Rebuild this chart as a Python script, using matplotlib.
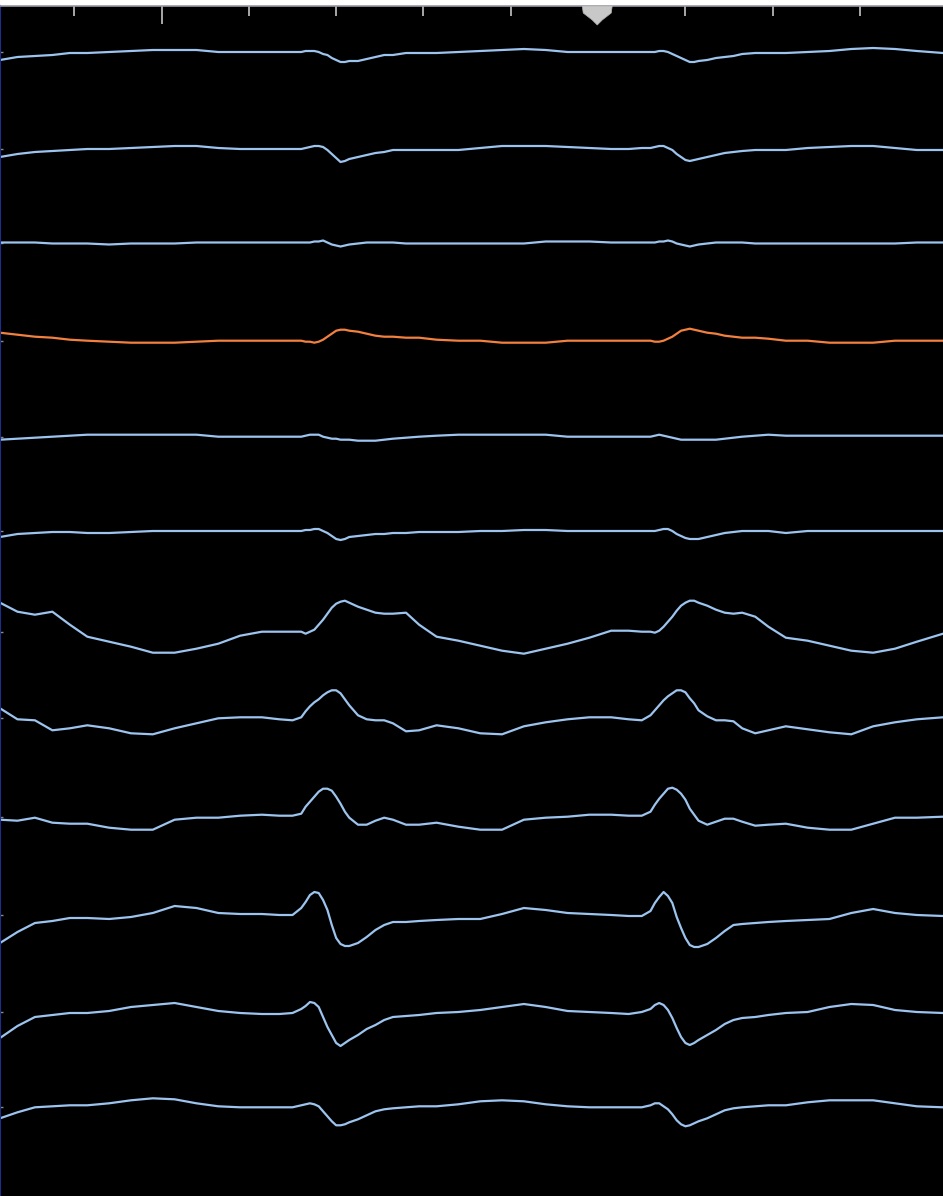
import matplotlib
matplotlib.use("Agg")
import matplotlib.pyplot as plt
from matplotlib.patches import Polygon
import numpy as np

# sample times (ms), denser around the two QRS complexes
time_ms = [0, 40, 80, 120, 160, 200, 250, 300, 350, 400, 450, 500, 550, 600, 640, 670,
           690, 700, 710, 720, 730, 740, 750, 760, 770, 780, 790, 800,
           820, 840, 860, 880, 900, 930, 960, 1000, 1050, 1100, 1150, 1200, 1250, 1300, 1350, 1400, 1440, 1470,
           1490, 1500, 1510, 1520, 1530, 1540, 1550, 1560, 1570, 1580, 1590, 1600,
           1620, 1640, 1660, 1680, 1700, 1730, 1760, 1800, 1850, 1900, 1950, 2000, 2050, 2100, 2160]

# lead amplitudes in mV
lead_1 = [-0.08, -0.05, -0.04, -0.03, -0.01, -0.01, 0.00, 0.01, 0.02, 0.02, 0.02, 0.00, 0.00, 0.00, 0.00, 0.00,
          0.00, 0.01, 0.01, 0.01, 0.00, -0.02, -0.03, -0.06, -0.08, -0.10, -0.10, -0.09,
          -0.09, -0.07, -0.05, -0.03, -0.03, -0.01, -0.01, -0.01, 0.00, 0.01, 0.02, 0.03, 0.02, 0.00, 0.00, 0.00, 0.00, 0.00,
          0.00, 0.00, 0.01, 0.01, 0.00, -0.02, -0.04, -0.06, -0.08, -0.10, -0.10, -0.09,
          -0.08, -0.06, -0.05, -0.04, -0.02, -0.01, -0.01, -0.01, 0.00, 0.01, 0.03, 0.04, 0.03, 0.01, -0.01]
lead_2 = [-0.08, -0.05, -0.03, -0.02, -0.01, 0.00, 0.00, 0.01, 0.02, 0.03, 0.03, 0.01, 0.00, 0.00, 0.00, 0.00,
          0.00, 0.01, 0.02, 0.03, 0.03, 0.02, -0.01, -0.05, -0.09, -0.13, -0.12, -0.10,
          -0.08, -0.06, -0.04, -0.03, -0.01, -0.01, -0.01, -0.01, -0.01, 0.01, 0.03, 0.03, 0.03, 0.02, 0.01, 0.00, 0.00, 0.01,
          0.01, 0.02, 0.03, 0.03, 0.01, -0.01, -0.05, -0.08, -0.11, -0.12, -0.11, -0.10,
          -0.08, -0.06, -0.04, -0.03, -0.02, -0.01, -0.01, -0.01, 0.01, 0.02, 0.03, 0.03, 0.01, -0.01, -0.01]
lead_3 = [0.01, 0.01, 0.01, 0.00, 0.00, 0.00, -0.01, 0.00, 0.00, 0.00, 0.01, 0.01, 0.01, 0.01, 0.01, 0.01,
          0.01, 0.01, 0.01, 0.02, 0.02, 0.03, 0.01, -0.01, -0.02, -0.03, -0.02, -0.01,
          0.00, 0.01, 0.01, 0.01, 0.01, 0.00, 0.00, 0.00, 0.00, 0.00, 0.00, 0.00, 0.02, 0.02, 0.02, 0.01, 0.01, 0.01,
          0.01, 0.01, 0.02, 0.02, 0.03, 0.02, 0.00, -0.01, -0.02, -0.03, -0.02, -0.01,
          0.00, 0.01, 0.01, 0.01, 0.01, 0.00, 0.00, 0.00, 0.00, 0.00, 0.00, 0.00, 0.00, 0.01, 0.01]
lead_4 = [0.08, 0.06, 0.04, 0.03, 0.01, 0.00, -0.01, -0.02, -0.02, -0.02, -0.01, 0.00, 0.00, 0.00, 0.00, 0.00,
          0.00, -0.01, -0.01, -0.02, -0.01, 0.01, 0.04, 0.07, 0.10, 0.11, 0.11, 0.10,
          0.09, 0.07, 0.05, 0.04, 0.04, 0.03, 0.03, 0.01, 0.00, 0.00, -0.02, -0.02, -0.02, 0.00, 0.00, 0.00, 0.00, 0.00,
          0.00, -0.01, -0.01, 0.00, 0.02, 0.04, 0.07, 0.10, 0.11, 0.12, 0.11, 0.10,
          0.08, 0.07, 0.05, 0.04, 0.03, 0.03, 0.02, 0.00, 0.00, -0.02, -0.02, -0.02, 0.00, 0.00, 0.00]
lead_5 = [-0.03, -0.02, -0.01, 0.00, 0.01, 0.02, 0.02, 0.02, 0.02, 0.02, 0.02, 0.00, 0.00, 0.00, 0.00, 0.00,
          0.00, 0.01, 0.02, 0.02, 0.02, 0.00, -0.01, -0.02, -0.02, -0.03, -0.03, -0.03,
          -0.04, -0.04, -0.04, -0.03, -0.02, -0.01, 0.00, 0.01, 0.02, 0.02, 0.02, 0.02, 0.02, 0.00, 0.00, 0.00, 0.00, 0.00,
          0.00, 0.01, 0.02, 0.01, 0.00, -0.01, -0.02, -0.03, -0.03, -0.03, -0.03, -0.03,
          -0.03, -0.03, -0.02, -0.01, 0.00, 0.01, 0.02, 0.01, 0.01, 0.01, 0.01, 0.01, 0.01, 0.01, 0.01]
lead_6 = [-0.06, -0.03, -0.02, -0.01, -0.01, -0.02, -0.02, -0.01, 0.00, 0.00, 0.00, 0.00, 0.00, 0.00, 0.00, 0.00,
          0.00, 0.01, 0.01, 0.02, 0.02, 0.00, -0.02, -0.05, -0.08, -0.09, -0.08, -0.06,
          -0.05, -0.04, -0.03, -0.03, -0.02, -0.02, -0.01, -0.01, -0.01, 0.00, 0.00, 0.01, 0.01, 0.00, 0.00, 0.00, 0.00, 0.00,
          0.00, 0.00, 0.01, 0.02, 0.02, 0.00, -0.03, -0.05, -0.07, -0.08, -0.08, -0.08,
          -0.06, -0.04, -0.02, -0.01, 0.00, 0.00, 0.00, -0.02, 0.00, 0.00, 0.00, 0.00, 0.00, 0.00, 0.00]
lead_7 = [0.29, 0.20, 0.17, 0.20, 0.07, -0.05, -0.10, -0.15, -0.21, -0.21, -0.17, -0.12, -0.04, 0.00, 0.00, 0.00,
          0.00, -0.02, 0.00, 0.02, 0.07, 0.12, 0.18, 0.24, 0.28, 0.30, 0.31, 0.29,
          0.25, 0.22, 0.19, 0.18, 0.18, 0.19, 0.07, -0.05, -0.09, -0.14, -0.19, -0.22, -0.17, -0.12, -0.06, 0.01, 0.01, 0.00,
          0.00, -0.01, 0.01, 0.05, 0.10, 0.15, 0.21, 0.26, 0.29, 0.31, 0.31, 0.29,
          0.26, 0.22, 0.19, 0.18, 0.19, 0.15, 0.05, -0.06, -0.09, -0.14, -0.19, -0.21, -0.17, -0.10, -0.02]
lead_8 = [0.10, -0.01, -0.02, -0.12, -0.10, -0.07, -0.10, -0.15, -0.16, -0.10, -0.05, 0.00, 0.01, 0.01, -0.01, -0.02,
          0.01, 0.07, 0.12, 0.16, 0.19, 0.23, 0.26, 0.28, 0.28, 0.25, 0.19, 0.13,
          0.03, -0.01, -0.02, -0.02, -0.05, -0.13, -0.12, -0.07, -0.10, -0.15, -0.16, -0.08, -0.04, -0.01, 0.01, 0.01, -0.01, -0.02,
          0.03, 0.08, 0.13, 0.18, 0.22, 0.25, 0.28, 0.28, 0.26, 0.20, 0.15, 0.08,
          0.02, -0.02, -0.02, -0.03, -0.10, -0.15, -0.12, -0.08, -0.11, -0.14, -0.16, -0.08, -0.04, -0.01, 0.01]
lead_9 = [-0.03, -0.04, -0.01, -0.06, -0.07, -0.07, -0.11, -0.13, -0.13, -0.03, -0.01, -0.01, 0.01, 0.02, 0.01, 0.01,
          0.03, 0.10, 0.15, 0.20, 0.25, 0.28, 0.28, 0.26, 0.20, 0.13, 0.05, -0.01,
          -0.08, -0.08, -0.04, -0.01, -0.03, -0.08, -0.08, -0.06, -0.10, -0.13, -0.13, -0.03, -0.01, 0.00, 0.02, 0.02, 0.01, 0.01,
          0.05, 0.12, 0.18, 0.23, 0.28, 0.29, 0.27, 0.23, 0.17, 0.08, 0.02, -0.04,
          -0.08, -0.05, -0.02, -0.02, -0.05, -0.09, -0.08, -0.07, -0.11, -0.13, -0.13, -0.07, -0.01, -0.01, 0.00]
lead_10 = [-0.28, -0.17, -0.08, -0.06, -0.03, -0.03, -0.04, -0.02, 0.02, 0.09, 0.07, 0.02, 0.01, 0.01, 0.00, 0.00,
           0.07, 0.13, 0.20, 0.23, 0.22, 0.15, 0.05, -0.10, -0.23, -0.29, -0.31, -0.31,
           -0.28, -0.22, -0.15, -0.10, -0.07, -0.07, -0.06, -0.05, -0.04, -0.04, 0.01, 0.07, 0.05, 0.02, 0.01, 0.00, -0.01, -0.01,
           0.04, 0.12, 0.18, 0.23, 0.19, 0.12, -0.02, -0.13, -0.23, -0.30, -0.32, -0.32,
           -0.29, -0.23, -0.16, -0.10, -0.09, -0.08, -0.07, -0.06, -0.05, -0.04, 0.02, 0.06, 0.02, 0.00, -0.01]
lead_11 = [-0.26, -0.14, -0.05, -0.03, -0.01, -0.01, 0.01, 0.05, 0.07, 0.09, 0.05, 0.01, -0.01, -0.02, -0.02, -0.01,
           0.03, 0.06, 0.10, 0.09, 0.05, -0.05, -0.15, -0.23, -0.31, -0.34, -0.31, -0.28,
           -0.23, -0.17, -0.13, -0.08, -0.05, -0.04, -0.03, -0.01, 0.00, 0.02, 0.05, 0.08, 0.05, 0.01, 0.00, -0.01, -0.02, 0.00,
           0.03, 0.07, 0.09, 0.07, 0.02, -0.06, -0.16, -0.25, -0.31, -0.33, -0.31, -0.28,
           -0.23, -0.18, -0.12, -0.08, -0.06, -0.05, -0.03, -0.01, 0.00, 0.05, 0.08, 0.07, 0.02, 0.00, -0.01]
lead_12 = [-0.11, -0.05, 0.00, 0.01, 0.02, 0.02, 0.04, 0.07, 0.09, 0.08, 0.04, 0.01, 0.00, 0.00, 0.00, 0.00,
           0.02, 0.03, 0.04, 0.03, 0.01, -0.04, -0.09, -0.14, -0.18, -0.18, -0.17, -0.15,
           -0.12, -0.08, -0.04, -0.02, -0.01, 0.00, 0.01, 0.01, 0.03, 0.06, 0.07, 0.06, 0.03, 0.01, 0.00, 0.00, 0.00, 0.00,
           0.02, 0.04, 0.04, 0.01, -0.02, -0.07, -0.13, -0.17, -0.19, -0.18, -0.16, -0.14,
           -0.11, -0.07, -0.03, -0.01, 0.00, 0.01, 0.02, 0.02, 0.05, 0.07, 0.07, 0.07, 0.04, 0.01, 0.00]

leads = [lead_1, lead_2, lead_3, lead_4, lead_5, lead_6,
         lead_7, lead_8, lead_9, lead_10, lead_11, lead_12]

# time ruler along the top (ms)
ruler_ticks = [170, 570, 770, 970, 1170, 1570, 1770, 1970]
ruler_long_tick = [370]
cursor_ms = 1368

# layout
W, H = 943, 1196
GAIN = 100.0          # px per mV
MS_PER_PX = 2160 / W
TOP_PX = 6
baseline_px = [52, 149, 243.5, 340.7, 436.7, 531, 631.7, 718.3, 816.7, 915, 1012, 1107.3]
BLUE = "#9cc4ee"
ORANGE = "#f2803e"
highlight = 3

fig = plt.figure(figsize=(W / 100, H / 100), dpi=100, facecolor="white")
ax = fig.add_axes([0, 0, 1, 1 - TOP_PX / H])
ax.set_facecolor("black")
ax.set_xlim(0, 2160)
ax.set_ylim(-H / GAIN, -TOP_PX / GAIN)

t = np.array(time_ms)
for i, lead in enumerate(leads):
    col = ORANGE if i == highlight else BLUE
    ax.plot(t, np.array(lead) - baseline_px[i] / GAIN, color=col, lw=1.6,
            solid_joinstyle="round", solid_capstyle="round")

# spines
for s in ["right", "bottom"]:
    ax.spines[s].set_visible(False)
ax.spines["top"].set_color("#9a9aa6")
ax.spines["top"].set_linewidth(1.2)
ax.spines["left"].set_color("#1c2f8c")
ax.spines["left"].set_linewidth(1.5)

# ruler ticks on top
ax.xaxis.set_ticks_position("top")
ax.set_xticks(ruler_long_tick)
ax.set_xticks(ruler_ticks, minor=True)
ax.tick_params(axis="x", which="major", direction="in", length=13, width=1.4,
               color="#a8a8a8", labeltop=False, labelbottom=False)
ax.tick_params(axis="x", which="minor", direction="in", length=7.5, width=1.4,
               color="#a8a8a8", labeltop=False, labelbottom=False)

# small baseline marks on the left edge
ax.set_yticks([-b / GAIN for b in baseline_px])
ax.tick_params(axis="y", direction="in", length=2.5, width=1, color="#8a8a8a",
               labelleft=False)

# cursor marker
cx = cursor_ms
px = MS_PER_PX
marker = Polygon([(cx - 15 * px, -0.06), (cx + 15 * px, -0.06), (cx + 14 * px, -0.13),
                  (cx + 5 * px, -0.20), (cx, -0.25), (cx - 5 * px, -0.20),
                  (cx - 14 * px, -0.13)],
                 closed=True, facecolor="#c8c8c8", edgecolor="#b0b0b0", lw=0.5,
                 zorder=5, clip_on=False)
ax.add_patch(marker)

fig.savefig("out.png", dpi=100, facecolor="white")
